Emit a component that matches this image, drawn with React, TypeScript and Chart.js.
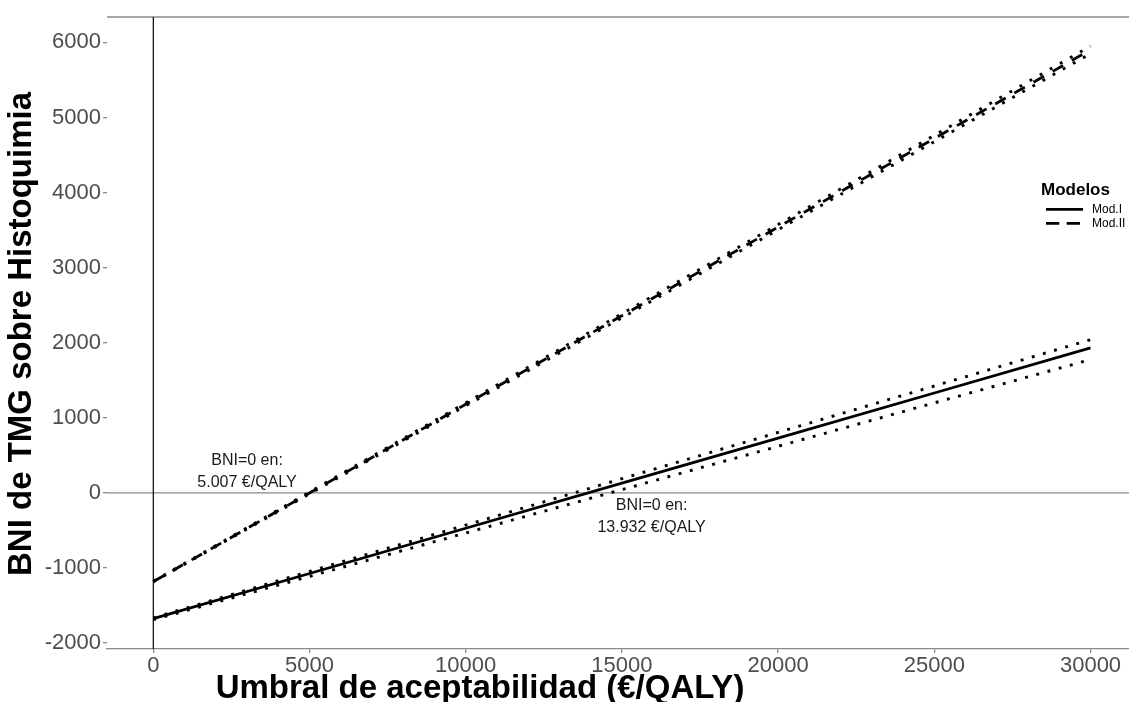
import { useEffect, useRef } from "react";
import { Chart, registerables } from "chart.js";

Chart.register(...registerables);

// ---- data ----
const umbral = [0, 5000, 10000, 15000, 20000, 25000, 30000];
const modI = [-1675, -1074, -472, 129, 730, 1330, 1930];
const modIUpper = [-1665, -1047, -430, 188, 805, 1423, 2040];
const modILower = [-1690, -1113, -535, 43, 620, 1198, 1775];
const modII = [-1182, -2, 1179, 2359, 3540, 4720, 5900];
const modIIUpper = [-1178, 10, 1198, 2386, 3574, 4762, 5950];
const modIILower = [-1186, -13, 1159, 2332, 3505, 4677, 5850];

const xTicks = [0, 5000, 10000, 15000, 20000, 25000, 30000];
const yTicks = [-2000, -1000, 0, 1000, 2000, 3000, 4000, 5000, 6000];

const legendTitle = "Modelos";
const legendLabels = ["Mod.I", "Mod.II"];
const xTitle = "Umbral de aceptabilidad (€/QALY)";
const yTitle = "BNI de TMG sobre Histoquimia";

const annotationTexts = [
  ["BNI=0 en:", "5.007 €/QALY"],
  ["BNI=0 en:", "13.932 €/QALY"],
];
const annotationX = [3000, 15950];
const annotationY = [277, -322];

const FONT = "'Liberation Sans', Arial, sans-serif";

const pts = (ys: number[]) => umbral.map((x, i) => ({ x, y: ys[i] }));

export default function App() {
  const ref = useRef<HTMLCanvasElement | null>(null);

  useEffect(() => {
    if (!ref.current) return;

    const refLines = {
      id: "refLines",
      beforeDatasetsDraw(chart: any) {
        const { ctx, chartArea, scales } = chart;
        const y0 = scales.y.getPixelForValue(0);
        const x0 = scales.x.getPixelForValue(0);
        ctx.save();
        ctx.strokeStyle = "#8a8a8a";
        ctx.lineWidth = 1.3;
        ctx.beginPath();
        ctx.moveTo(chartArea.left, y0);
        ctx.lineTo(chartArea.right, y0);
        ctx.moveTo(chartArea.left, chartArea.top);
        ctx.lineTo(chartArea.right, chartArea.top);
        ctx.stroke();
        ctx.strokeStyle = "#000";
        ctx.lineWidth = 1.2;
        ctx.beginPath();
        ctx.moveTo(x0, chartArea.top);
        ctx.lineTo(x0, chartArea.bottom);
        ctx.stroke();
        ctx.restore();
      },
    };

    const texts = {
      id: "texts",
      afterDraw(chart: any) {
        const { ctx, scales } = chart;
        ctx.save();
        // annotations
        ctx.fillStyle = "#1a1a1a";
        ctx.font = `16px ${FONT}`;
        ctx.textAlign = "center";
        ctx.textBaseline = "middle";
        annotationTexts.forEach((lines, i) => {
          const cx = scales.x.getPixelForValue(annotationX[i]);
          const cy = scales.y.getPixelForValue(annotationY[i]);
          const gap = 22;
          lines.forEach((t, j) => {
            ctx.fillText(t, cx, cy + (j - (lines.length - 1) / 2) * gap);
          });
        });
        // legend
        ctx.fillStyle = "#000";
        ctx.textAlign = "left";
        ctx.font = `bold 17px ${FONT}`;
        ctx.fillText(legendTitle, 1041, 190);
        ctx.font = `12px ${FONT}`;
        ctx.fillText(legendLabels[0], 1092, 209.5);
        ctx.fillText(legendLabels[1], 1092, 223.5);
        ctx.strokeStyle = "#000";
        ctx.lineWidth = 2.7;
        ctx.beginPath();
        ctx.moveTo(1046, 209.3);
        ctx.lineTo(1083, 209.3);
        ctx.stroke();
        ctx.setLineDash([13.3, 7.4]);
        ctx.beginPath();
        ctx.moveTo(1046, 223.3);
        ctx.lineTo(1083, 223.3);
        ctx.stroke();
        ctx.setLineDash([]);
        // axis titles
        ctx.font = `bold 33px ${FONT}`;
        ctx.textAlign = "center";
        ctx.textBaseline = "middle";
        ctx.fillText(xTitle, 480, 689);
        ctx.translate(22, 334);
        ctx.rotate(-Math.PI / 2);
        ctx.fillText(yTitle, 0, 0);
        ctx.restore();
      },
    };

    const dotted = { borderDash: [2.9, 8.7], borderWidth: 2.9 };
    const chart = new Chart(ref.current, {
      type: "line",
      data: {
        datasets: [
          { label: "Mod.I sup", data: pts(modIUpper), ...dotted },
          { label: "Mod.I inf", data: pts(modILower), ...dotted },
          { label: "Mod.II sup", data: pts(modIIUpper), ...dotted },
          { label: "Mod.II inf", data: pts(modIILower), ...dotted },
          { label: "Mod.I", data: pts(modI), borderWidth: 2.8 },
          { label: "Mod.II", data: pts(modII), borderWidth: 2.8, borderDash: [12, 10] },
        ].map((d: any) => ({
          borderColor: "#000",
          backgroundColor: "#000",
          pointRadius: 0,
          fill: false,
          tension: 0,
          borderCapStyle: "butt",
          ...d,
        })),
      },
      options: {
        animation: false,
        responsive: false,
        devicePixelRatio: 1,
        layout: { padding: { top: 17, left: 0, right: 0, bottom: 0 } },
        plugins: { legend: { display: false }, tooltip: { enabled: false } },
        scales: {
          x: {
            type: "linear",
            min: -1482,
            max: 31232,
            afterBuildTicks: (s: any) => {
              s.ticks = xTicks.map((v) => ({ value: v }));
            },
            afterFit: (s: any) => {
              s.height = 53;
            },
            grid: {
              display: true,
              drawOnChartArea: false,
              drawTicks: true,
              tickLength: 4,
              color: "#8a8a8a",
              lineWidth: 1.3,
            },
            border: { display: true, color: "#8a8a8a", width: 1.3 },
            ticks: {
              color: "#4d4d4d",
              font: { family: FONT, size: 22 },
              padding: 0,
              maxRotation: 0,
              autoSkip: false,
              callback: (v: any) => String(v),
            },
          },
          y: {
            type: "linear",
            min: -2080,
            max: 6338,
            afterBuildTicks: (s: any) => {
              s.ticks = yTicks.map((v) => ({ value: v }));
            },
            afterFit: (s: any) => {
              s.width = 107;
            },
            grid: {
              display: true,
              drawOnChartArea: false,
              drawTicks: true,
              tickLength: 4,
              color: "#8a8a8a",
              lineWidth: 1.3,
            },
            border: { display: false },
            ticks: {
              color: "#4d4d4d",
              font: { family: FONT, size: 22 },
              padding: 2,
              autoSkip: false,
              callback: (v: any) => String(v),
            },
          },
        },
      },
      plugins: [refLines, texts],
    } as any);
    return () => chart.destroy();
  }, []);

  return (
    <div style={{ position: "fixed", left: 0, top: 0, width: 1129, height: 702, background: "#fff" }}>
      <canvas ref={ref} width={1129} height={702} style={{ display: "block" }} />
    </div>
  );
}
